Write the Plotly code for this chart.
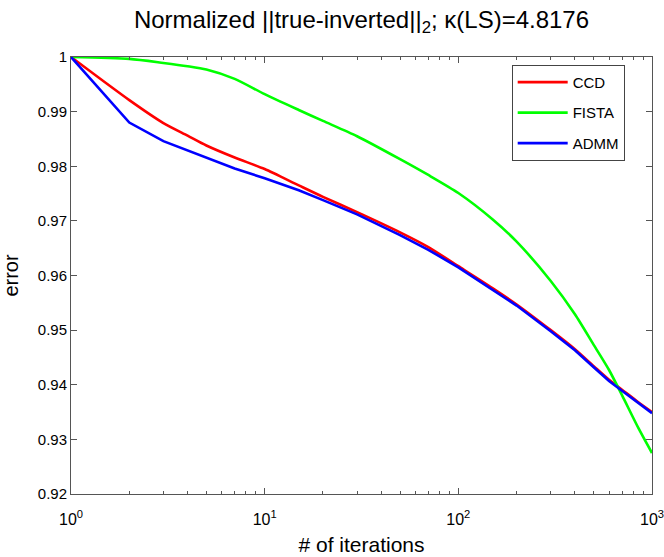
import plotly.graph_objects as go

iters = [1, 2, 3, 4, 5, 7, 10, 15, 20, 30, 50, 70, 100, 150, 200, 300, 400, 500, 600, 700, 850, 1000]
ccd = [1.0, 0.9921, 0.9879, 0.9856, 0.9838, 0.9816, 0.9795, 0.9765, 0.9744, 0.9716, 0.9679,
       0.9652, 0.9617, 0.9577, 0.9547, 0.9500, 0.9465, 0.9434, 0.9409, 0.9391, 0.9368, 0.9350]
fista = [1.0, 0.99965, 0.9989, 0.9983, 0.9977, 0.9960, 0.9932, 0.9903, 0.9883, 0.9855, 0.9813,
         0.9784, 0.9751, 0.9703, 0.9662, 0.9590, 0.9529, 0.9473, 0.9427, 0.9381, 0.9321, 0.9275]
admm = [1.0, 0.9880, 0.9846, 0.9829, 0.9815, 0.9796, 0.9778, 0.9756, 0.9738, 0.9712, 0.9674,
        0.9647, 0.9615, 0.9575, 0.9545, 0.9498, 0.9463, 0.9432, 0.9407, 0.9389, 0.9366, 0.9348]

series = [("CCD", ccd, "#ff0000", "spline"), ("FISTA", fista, "#00ff00", "spline"),
          ("ADMM", admm, "#0000ff", "linear")]

xtick_vals = [1, 10, 100, 1000]
xtick_text = ["10<sup>0</sup>", "10<sup>1</sup>", "10<sup>2</sup>", "10<sup>3</sup>"]
xminor_vals = [m * d for d in (1, 10, 100) for m in range(2, 10)]
ytick_vals = [0.92, 0.93, 0.94, 0.95, 0.96, 0.97, 0.98, 0.99, 1.0]
ytick_text = ["0.92", "0.93", "0.94", "0.95", "0.96", "0.97", "0.98", "0.99", "1"]

fig = go.Figure()
for name, vals, col, shp in series:
    line = dict(color=col, width=2.6, shape=shp)
    if shp == "spline":
        line["smoothing"] = 0.7
    fig.add_trace(go.Scatter(x=iters, y=vals, mode="lines", name=name,
                             legendgroup=name, line=line))

font_family = "Liberation Sans, Arial, sans-serif"
axis_col = "#555555"

fig.update_layout(
    width=664, height=557,
    margin=dict(l=71, r=12, t=57, b=63),
    paper_bgcolor="white", plot_bgcolor="white",
    font=dict(family=font_family, color="#000000", size=14),
    title=dict(text="Normalized ||true-inverted||<sub>2</sub>; κ(LS)=4.8176",
               x=(71 + 652) / 2 / 664, xanchor="center", y=0.98, yanchor="top",
               font=dict(size=24, family=font_family)),
    showlegend=True,
    legend=dict(x=0.953, xanchor="right", y=0.982, yanchor="top",
                bordercolor="#444444", borderwidth=1, bgcolor="white",
                font=dict(size=15, family=font_family),
                tracegroupgap=8, itemwidth=50),
    xaxis=dict(type="log", range=[0, 3], tickvals=xtick_vals, ticktext=xtick_text,
               ticks="inside", ticklen=6, tickcolor=axis_col,
               showline=True, linecolor=axis_col, linewidth=1, mirror="ticks",
               showgrid=False, zeroline=False, automargin=False,
               ticklabeloverflow="allow",
               minor=dict(tickvals=xminor_vals, ticks="inside", ticklen=3,
                          tickcolor=axis_col, showgrid=False),
               tickfont=dict(size=16), ticklabelstandoff=11,
               title=dict(text="# of iterations", font=dict(size=21), standoff=10)),
    yaxis=dict(range=[0.92, 1.0], tickvals=ytick_vals, ticktext=ytick_text,
               ticks="inside", ticklen=6, tickcolor=axis_col,
               showline=True, linecolor=axis_col, linewidth=1, mirror="ticks",
               showgrid=False, zeroline=False, automargin=False,
               ticklabeloverflow="allow",
               tickfont=dict(size=15),
               title=dict(text="error", font=dict(size=20), standoff=14)),
)

fig.write_html("out.html")
